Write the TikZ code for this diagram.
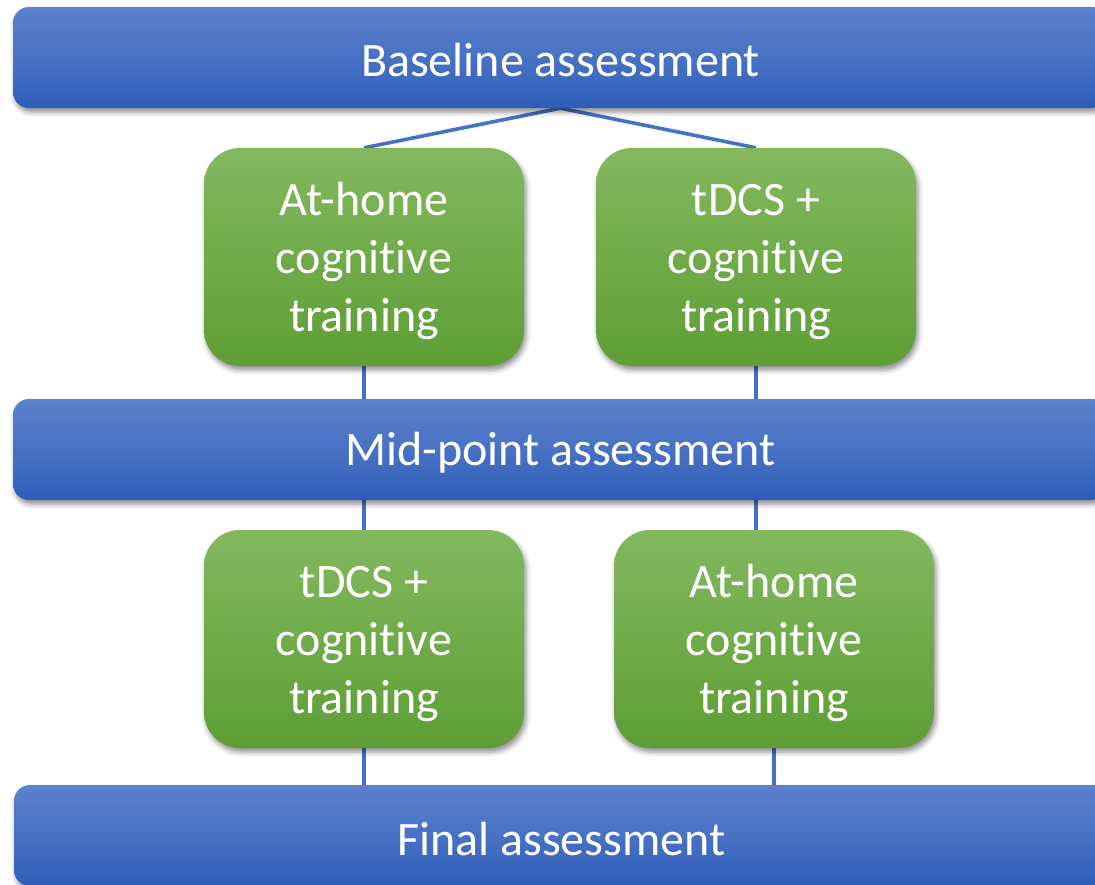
\documentclass[tikz,border=0pt]{standalone}
\usepackage{fontspec}
\setmainfont[Ligatures=CommonOff]{Carlito}
\usetikzlibrary{shadows.blur,backgrounds}
\definecolor{bartop}{RGB}{92,129,205}
\definecolor{barbot}{RGB}{46,94,184}
\definecolor{grntop}{RGB}{131,184,95}
\definecolor{grnbot}{RGB}{94,158,52}
\definecolor{linkblue}{RGB}{68,114,196}
% lower the printed text a little without changing the node's footprint
\newcommand\barlabel[1]{\raisebox{-3pt}[\height][\depth]{#1}}
\newcommand\armlabel[1]{\raisebox{-5pt}[\height][\depth]{\begin{tabular}{@{}c@{}}#1\end{tabular}}}
\tikzset{
  x=1pt, y=-1pt,
  phasebar/.style={rectangle, rounded corners=16pt, minimum width=1095pt, minimum height=101pt,
    top color=bartop, bottom color=barbot, middle color=bartop!55!barbot, draw=none,
    text=white, font=\fontsize{48}{58}\selectfont, inner sep=0pt,
    blur shadow={shadow xshift=2pt, shadow yshift=-4pt, shadow blur radius=5pt, shadow opacity=45}},
  armbox/.style={rectangle, rounded corners=36pt, minimum width=320pt, minimum height=218pt,
    top color=grntop, bottom color=grnbot, draw=none,
    text=white, font=\fontsize{48}{58}\selectfont, inner sep=0pt,
    blur shadow={shadow xshift=2pt, shadow yshift=-4pt, shadow blur radius=5pt, shadow opacity=45}},
  link/.style={draw=linkblue, line width=3.6pt}
}
\begin{document}
\begin{tikzpicture}
\useasboundingbox (0,0) rectangle (1095,884);
\node[phasebar] (base) at (560.5,57.5) {\barlabel{Baseline assessment}};
\node[phasebar] (mid) at (560.5,449.5) {\barlabel{Mid-point assessment}};
\node[phasebar] (fin) at (561.5,835.5) {\barlabel{Final assessment}};
\node[armbox] (b1) at (364,257) {\armlabel{At-home\\cognitive\\training}};
\node[armbox] (b2) at (756,257) {\armlabel{tDCS +\\cognitive\\training}};
\node[armbox] (b3) at (364,639) {\armlabel{tDCS +\\cognitive\\training}};
\node[armbox] (b4) at (774,639) {\armlabel{At-home\\cognitive\\training}};
\begin{pgfonlayer}{background}
  \draw[link] (b1.north) -- (base.south) -- (b2.north);
  \draw[link] (b1.south) -- (b1.south |- mid.north);
  \draw[link] (b2.south) -- (b2.south |- mid.north);
  \draw[link] (mid.south -| b3.north) -- (b3.north);
  \draw[link] (mid.south -| b2.south) -- (b4.north -| b2.south);
  \draw[link] (b3.south) -- (b3.south |- fin.north);
  \draw[link] (b4.south) -- (b4.south |- fin.north);
\end{pgfonlayer}
\end{tikzpicture}
\end{document}
